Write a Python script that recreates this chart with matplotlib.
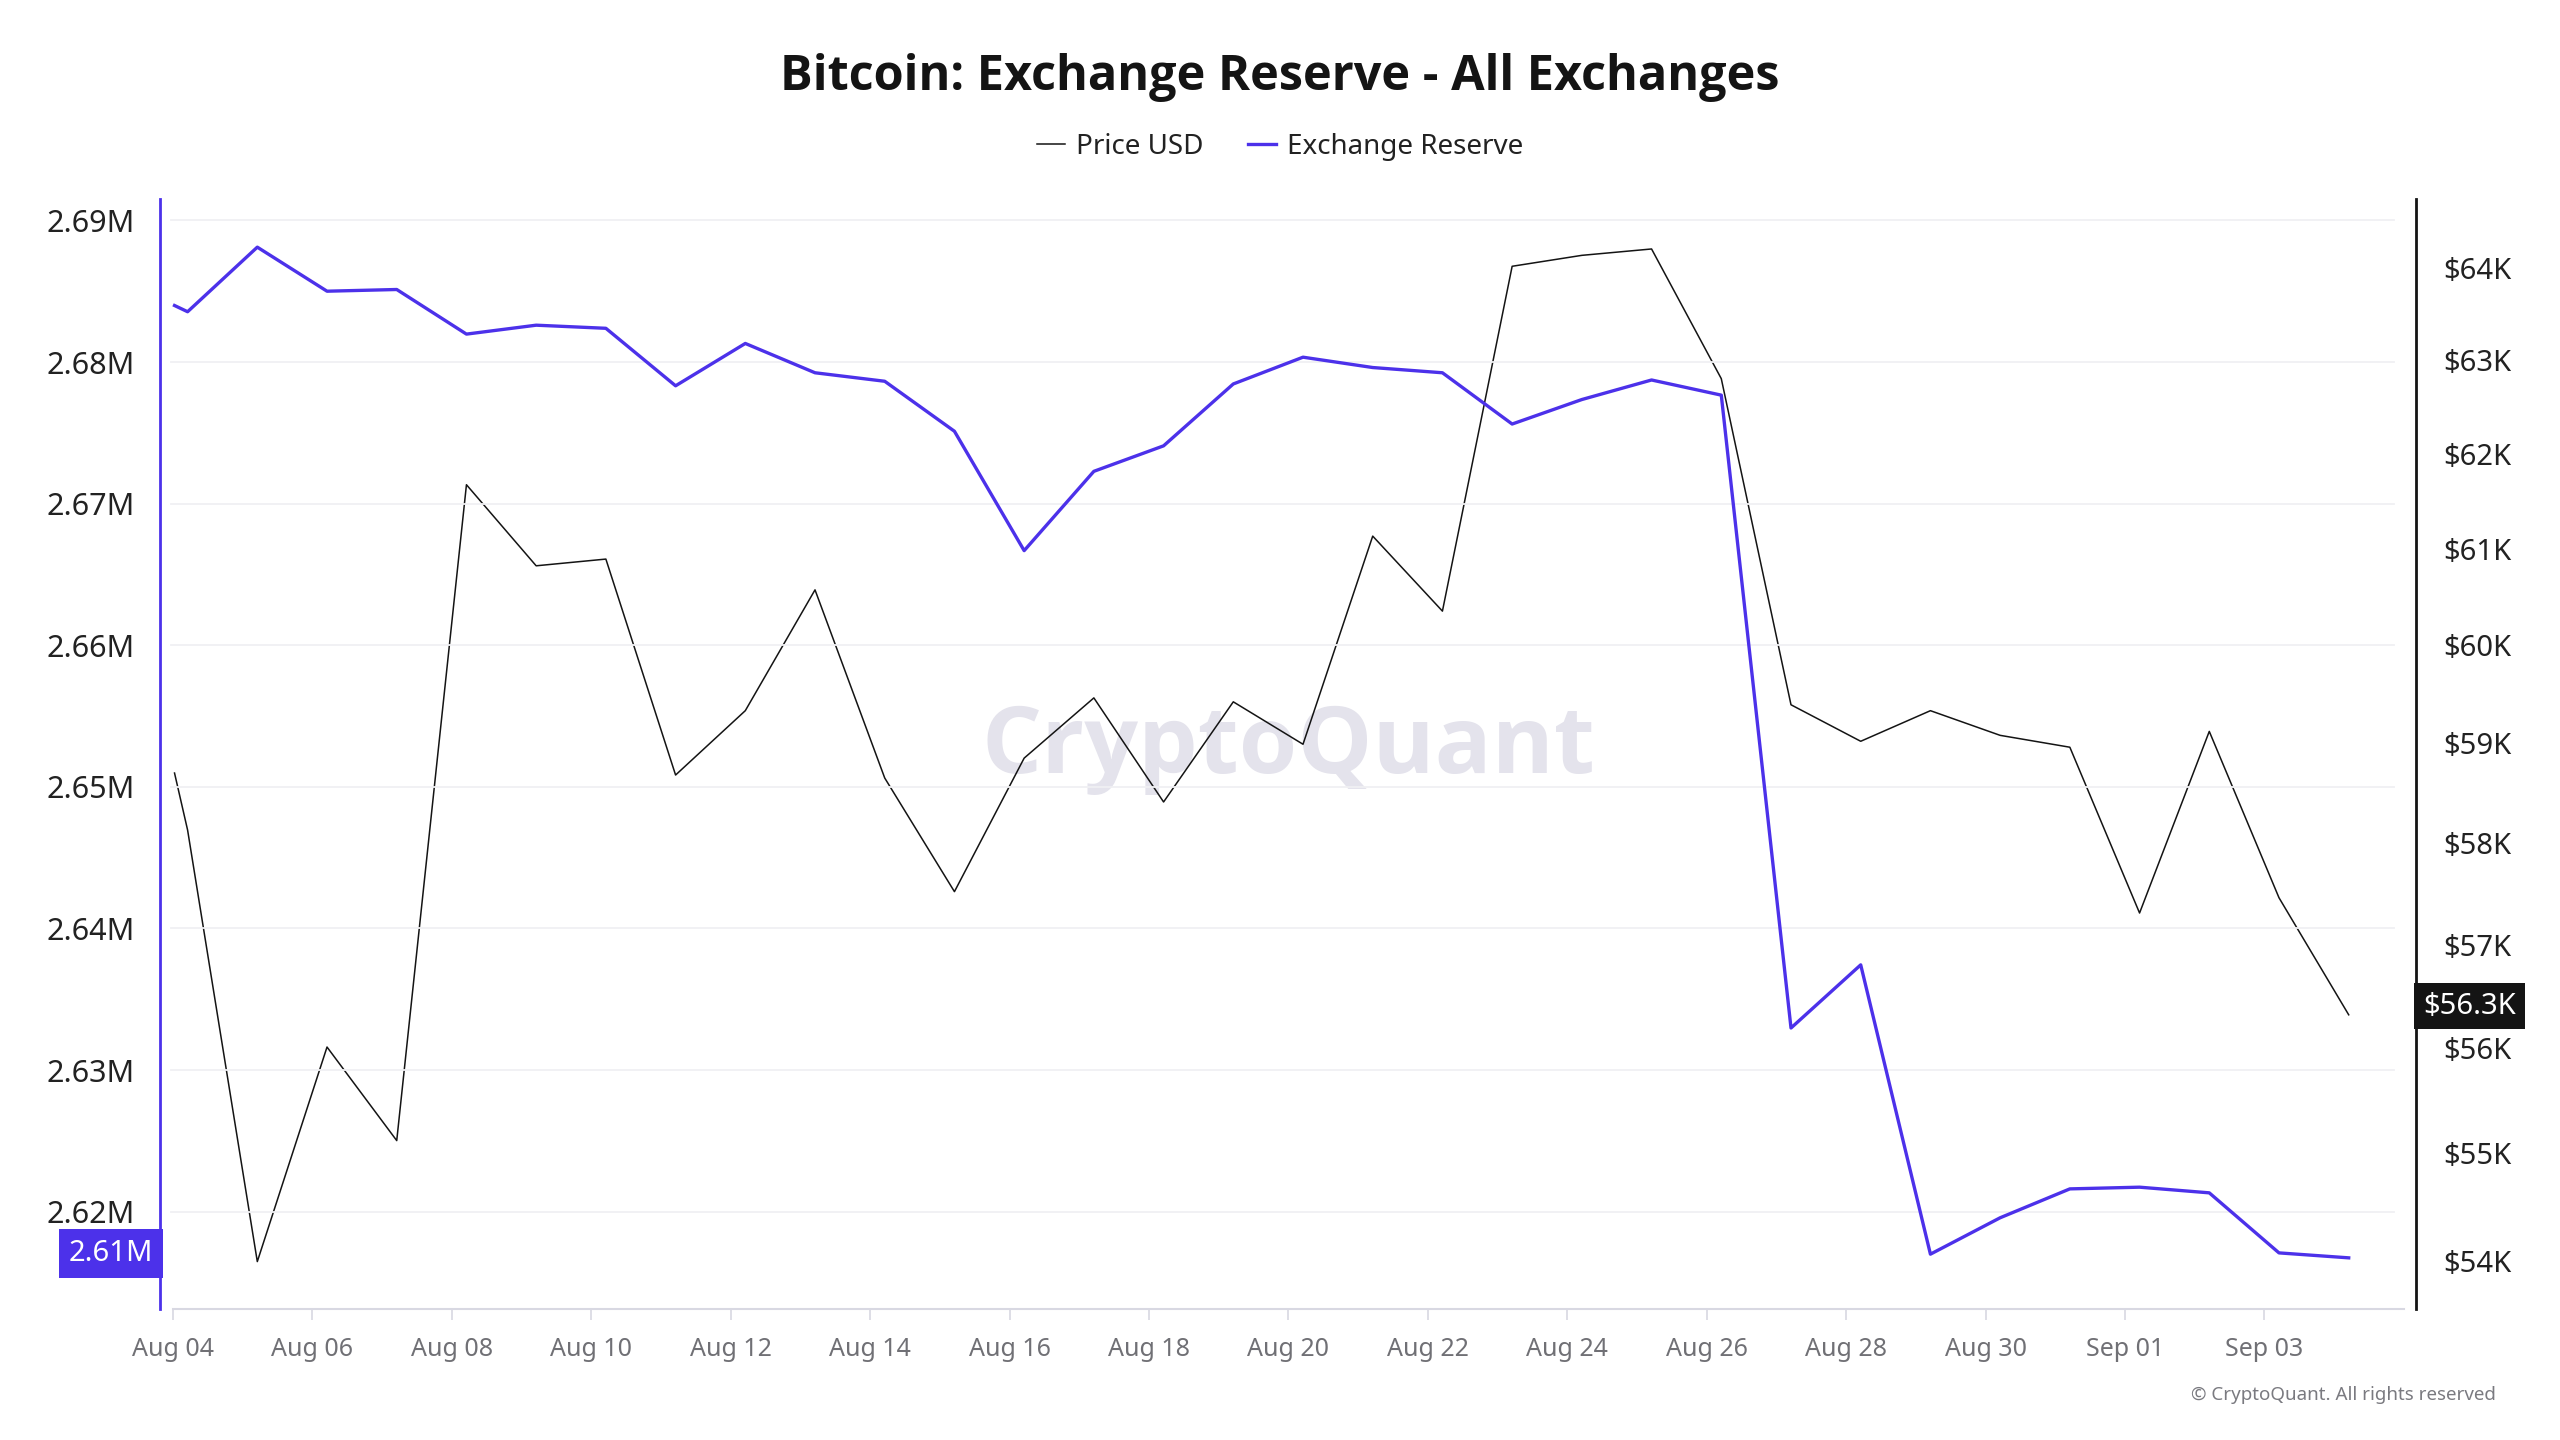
import numpy as np
import pandas as pd
import matplotlib
matplotlib.use("Agg")
import matplotlib.pyplot as plt
import matplotlib.dates as mdates
import matplotlib.transforms as mtransforms
from matplotlib.lines import Line2D
from matplotlib.ticker import FixedLocator, FuncFormatter, NullLocator

plt.rcParams['font.family'] = ['Noto Sans', 'DejaVu Sans']

# data (first sample is a partial day on Aug 04)
dates = [pd.Timestamp('2024-08-04 00:30')] + list(pd.date_range('2024-08-04 05:00', periods=32, freq='D'))

price_k = [58.70, 58.13, 53.99, 56.01, 55.12, 61.67, 60.82, 60.89, 58.68, 59.33,
           60.57, 58.65, 57.52, 58.85, 59.46, 58.41, 59.42, 58.99, 61.13, 60.35,
           64.02, 64.14, 64.21, 62.80, 59.39, 59.02, 59.33, 59.08, 58.96, 57.31,
           59.12, 57.46, 56.32]

reserve_m = [2.68399, 2.68355, 2.68811, 2.68500, 2.68512, 2.68197, 2.68260, 2.68238,
             2.67832, 2.68131, 2.67924, 2.67864, 2.67511, 2.66668, 2.67228, 2.67408,
             2.67845, 2.68034, 2.67961, 2.67924, 2.67562, 2.67735, 2.67873, 2.67766,
             2.63297, 2.63743, 2.61700, 2.61957, 2.62161, 2.62173, 2.62133, 2.61709,
             2.61674]

left_ticks = [2.62, 2.63, 2.64, 2.65, 2.66, 2.67, 2.68, 2.69]
right_ticks = [54, 55, 56, 57, 58, 59, 60, 61, 62, 63, 64]
xtick_dates = pd.date_range('2024-08-04', '2024-09-03', freq='2D')

purple = '#4c31ea'
black = '#141414'
bold_family = ['Open Sans', 'Lato', 'DejaVu Sans']

fig = plt.figure(figsize=(25.6, 14.4), dpi=100)
ax = fig.add_axes([0.0625, 0.0907, 0.8814, 0.771])
ax2 = ax.twinx()

# reserve drawn above price
ax.set_zorder(2)
ax2.set_zorder(1)
ax.patch.set_visible(False)

ax2.text(0.5, 0.505, 'CryptoQuant', transform=ax2.transAxes, ha='center', va='center',
         fontsize=68, fontweight='bold', family=bold_family, color='#e4e3ec', zorder=0)

for v in left_ticks:
    ax.axhline(v, xmin=0.005, xmax=0.99, color='#f0f0f3', lw=1.3, zorder=0)

ax.plot(dates, reserve_m, color=purple, lw=2.4, zorder=3)
ax2.plot(dates, price_k, color=black, lw=1.1, zorder=2)

x0 = pd.Timestamp('2024-08-04')
ax.set_xlim(x0 - pd.Timedelta(hours=4.5), x0 + pd.Timedelta(days=32, hours=4.3))
ax.set_ylim(2.6131, 2.6915)

ax2.set_yscale('log')
ax2.set_ylim(53.55, 64.76)
ax2.yaxis.set_major_locator(FixedLocator(right_ticks))
ax2.yaxis.set_minor_locator(NullLocator())
ax2.yaxis.set_major_formatter(FuncFormatter(lambda v, p: f'${v:.0f}K'))

ax.yaxis.set_major_locator(FixedLocator(left_ticks))
ax.yaxis.set_major_formatter(FuncFormatter(lambda v, p: f'{v:.2f}M'))
ax.set_xticks(xtick_dates)
ax.xaxis.set_major_formatter(mdates.DateFormatter('%b %d'))

ax.tick_params(axis='y', length=0, pad=18, labelsize=22, labelcolor='#222222')
ax.tick_params(axis='x', length=8, width=1.2, color='#d8d8e2', pad=12,
               labelsize=18, labelcolor='#707075')
ax2.tick_params(axis='y', length=0, pad=19, labelsize=21, labelcolor='#222222')

for s in ['top', 'right']:
    ax.spines[s].set_visible(False)
for s in ['top', 'left', 'bottom']:
    ax2.spines[s].set_visible(False)
ax.spines['left'].set_color(purple)
ax.spines['left'].set_linewidth(2)
ax.spines['bottom'].set_color('#d8d8e2')
ax.spines['bottom'].set_linewidth(1.5)
ax.spines['bottom'].set_bounds(mdates.date2num(x0), mdates.date2num(x0 + pd.Timedelta(days=32)))
ax2.spines['right'].set_color(black)
ax2.spines['right'].set_linewidth(2)

# last value boxes
res_label = f'{np.floor(reserve_m[-1] * 100) / 100:.2f}M'
ax.text(-0.003, reserve_m[-1] + 0.0003, res_label,
        transform=mtransforms.blended_transform_factory(ax.transAxes, ax.transData),
        ha='right', va='center', color='white', fontsize=21,
        bbox=dict(boxstyle='square,pad=0.35', fc=purple, ec='none'), clip_on=False, zorder=10)
ax2.text(1.003, price_k[-1] * 1.0015, f'${price_k[-1]:.1f}K',
         transform=mtransforms.blended_transform_factory(ax2.transAxes, ax2.transData),
         ha='left', va='center', color='white', fontsize=21,
         bbox=dict(boxstyle='square,pad=0.3', fc=black, ec='none'), clip_on=False, zorder=10)

fig.text(0.5, 0.946, 'Bitcoin: Exchange Reserve - All Exchanges', ha='center', va='center',
         fontsize=35, fontweight='bold', family=bold_family, color='#141414')

handles = [Line2D([], [], color=black, lw=1.1), Line2D([], [], color=purple, lw=2.4)]
fig.legend(handles, ['Price USD', 'Exchange Reserve'], loc='center', bbox_to_anchor=(0.5, 0.898),
           ncol=2, frameon=False, fontsize=20, handlelength=1.0, columnspacing=1.6,
           handletextpad=0.4, labelcolor='#222222')

fig.text(0.975, 0.031, '\u00a9 CryptoQuant. All rights reserved', ha='right', va='center',
         fontsize=13.5, color='#7a7a80')

fig.savefig('out.png', dpi=100, facecolor='white')
